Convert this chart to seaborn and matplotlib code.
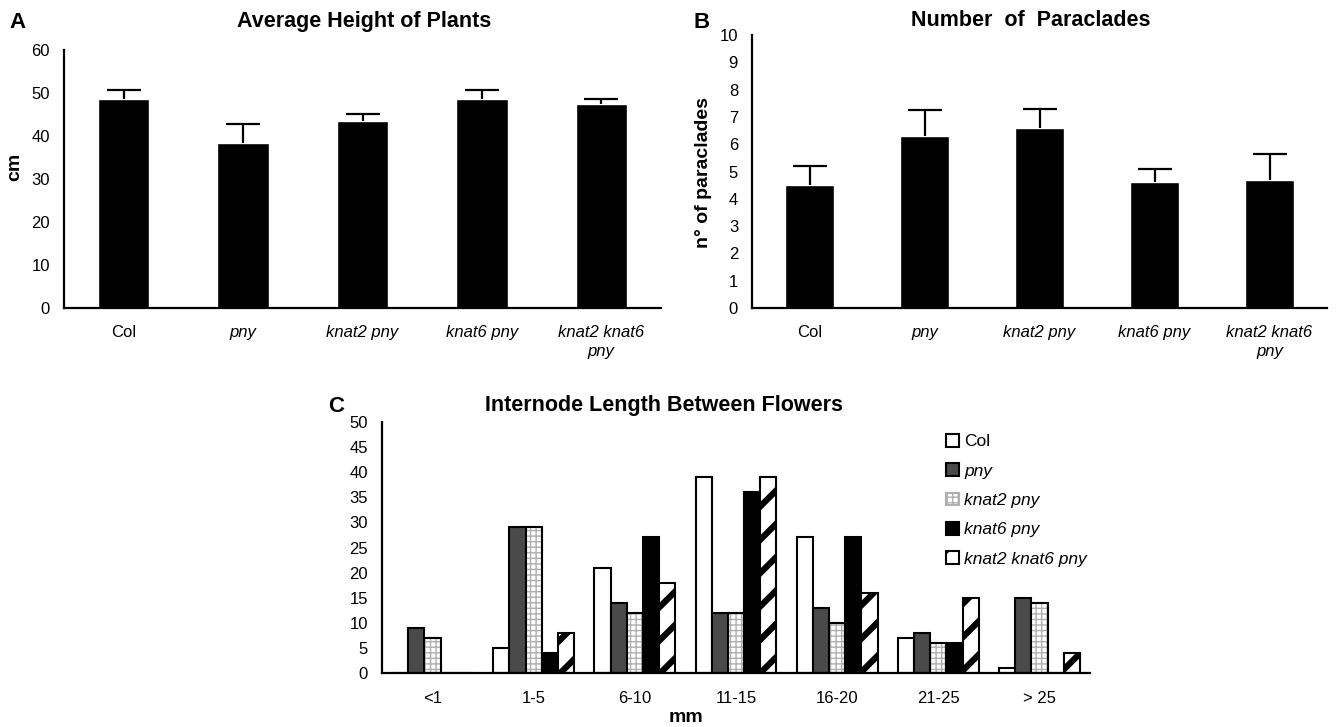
import numpy as np
import pandas as pd
import matplotlib
matplotlib.use('Agg')
import matplotlib.pyplot as plt
from matplotlib.patches import Rectangle
from matplotlib.ticker import FixedLocator
import seaborn as sns

# ---- data ----
genotypes = ['Col', 'pny', 'knat2 pny', 'knat6 pny', 'knat2 knat6 pny']
tick_names = ['Col', 'pny', 'knat2 pny', 'knat6 pny', 'knat2 knat6\npny']

height_cm = [48.5, 38.3, 43.6, 48.7, 47.5]
height_err = [2.2, 4.4, 1.6, 2.1, 1.0]

paraclades = [4.5, 6.3, 6.6, 4.6, 4.7]
paraclades_err = [0.7, 0.95, 0.7, 0.5, 0.95]

bins = ['<1', '1-5', '6-10', '11-15', '16-20', '21-25', '> 25']
col_counts = [0, 5, 21, 39, 27, 7, 1]
pny_counts = [9, 29, 14, 12, 13, 8, 15]
knat2_counts = [7, 29, 12, 12, 10, 6, 14]
knat6_counts = [0, 4, 27, 36, 27, 6, 0]
knat26_counts = [0, 8, 18, 39, 16, 15, 4]

W, H = 1337, 727

sns.set_style('white')
plt.rcParams['font.family'] = ['Liberation Sans', 'DejaVu Sans']
plt.rcParams['hatch.linewidth'] = 1.0
for key in ['text.color', 'axes.labelcolor', 'xtick.color', 'ytick.color']:
    plt.rcParams[key] = 'black'

fig = plt.figure(figsize=(W / 100, H / 100), dpi=100)


def px_box(x0, y0, x1, y1):
    # pixel box (top-left origin) -> figure fraction rect
    return [x0 / W, 1 - y1 / H, (x1 - x0) / W, (y1 - y0) / H]


def ftext(x, y, s, **kw):
    fig.text(x / W, 1 - y / H, s, ha='center', va='center', color='black', **kw)


def style_axis(ax, n, ymax, ystep, pad):
    ax.set_ylim(0, ymax)
    ax.set_xlim(-0.5, n - 0.5)
    ax.set_yticks(np.arange(0, ymax + ystep / 2, ystep))
    ax.xaxis.set_minor_locator(FixedLocator(np.arange(-0.5, n, 1)))
    ax.tick_params(axis='x', which='major', length=0, pad=pad, labelsize=12, labelcolor='black')
    ax.tick_params(axis='x', which='minor', length=6, width=1.6, direction='out', color='black')
    ax.tick_params(axis='y', length=5, width=1.6, direction='out', pad=5, labelsize=12,
                   color='black', labelcolor='black')
    sns.despine(ax=ax)
    for s in ['left', 'bottom']:
        ax.spines[s].set_linewidth(1.6)
        ax.spines[s].set_color('black')
    ax.set_xlabel('')
    ax.set_ylabel('')


def simple_panel(ax, values, errs, ymax, ystep):
    sns.barplot(x=tick_names, y=values, color='black', saturation=1, width=0.43, ax=ax)
    xs = [p.get_x() + p.get_width() / 2 for p in ax.patches]
    eb = ax.errorbar(xs, values, yerr=[np.zeros(len(values)), errs], fmt='none',
                     ecolor='black', elinewidth=1.6, capsize=12, capthick=1.6, zorder=1)
    # only the upper cap is drawn in the original
    eb[1][0].remove()
    style_axis(ax, len(values), ymax, ystep, pad=12)
    for t in ax.get_xticklabels():
        t.set_linespacing(1.35)
        if t.get_text() != 'Col':
            t.set_fontstyle('italic')


# ---- A: plant height ----
axA = fig.add_axes(px_box(64, 50, 661, 308))
simple_panel(axA, height_cm, height_err, 60, 10)

# ---- B: paraclades ----
axB = fig.add_axes(px_box(752, 35, 1327, 308))
simple_panel(axB, paraclades, paraclades_err, 10, 1)

# ---- C: internode length ----
axC = fig.add_axes(px_box(382, 422, 1090, 673))
df_c = pd.DataFrame({
    'bin': np.tile(bins, len(genotypes)),
    'genotype': np.repeat(genotypes, len(bins)),
    'count': np.concatenate([col_counts, pny_counts, knat2_counts, knat6_counts, knat26_counts]),
})
palette = {'Col': 'white', 'pny': '#4a4a4a', 'knat2 pny': 'white',
           'knat6 pny': 'black', 'knat2 knat6 pny': 'white'}
sns.barplot(data=df_c, x='bin', y='count', hue='genotype', order=bins, hue_order=genotypes,
            palette=palette, saturation=1, width=0.8, edgecolor='black', linewidth=1.5,
            legend=False, ax=axC)

conts = axC.containers
# grey grid for knat2 pny, black outline drawn on top
for bar in conts[2]:
    bar.set_hatch('+++')
    bar.set_edgecolor('#b0b0b0')
    axC.add_patch(Rectangle(bar.get_xy(), bar.get_width(), bar.get_height(), fill=False,
                            edgecolor='black', linewidth=1.5, zorder=bar.get_zorder() + 0.1))
# thick diagonal stripes for knat2 knat6 pny
for bar in conts[4]:
    bar.set_hatch('/')
    try:
        bar.set_hatch_linewidth(4.5)
    except AttributeError:
        pass

style_axis(axC, len(bins), 50, 5, pad=13)

handles = [c.patches[0] for c in conts]
leg = axC.legend(handles, genotypes, loc='upper left',
                 bbox_to_anchor=(946 / W, 1 - 434 / H), bbox_transform=fig.transFigure,
                 frameon=False, fontsize=12.5, handlelength=0.75, handleheight=0.75,
                 handletextpad=0.3, labelspacing=0.8, borderpad=0, borderaxespad=0)
for t in leg.get_texts():
    t.set_color('black')
    if t.get_text() != 'Col':
        t.set_fontstyle('italic')

# ---- titles, letters, axis labels ----
ftext(18, 22, 'A', fontsize=16, fontweight='bold')
ftext(702, 22, 'B', fontsize=16, fontweight='bold')
ftext(336, 407, 'C', fontsize=16, fontweight='bold')
ftext(364, 21, 'Average Height of Plants', fontsize=15.5, fontweight='bold')
ftext(1031, 21, 'Number  of  Paraclades', fontsize=15.5, fontweight='bold')
ftext(664, 405, 'Internode Length Between Flowers', fontsize=15.5, fontweight='bold')
ftext(15, 167, 'cm', fontsize=14, fontweight='bold', rotation=90)
ftext(703, 172, 'n° of paraclades', fontsize=14, fontweight='bold', rotation=90)
ftext(686, 717, 'mm', fontsize=14, fontweight='bold')

fig.savefig('out.png', dpi=100)
